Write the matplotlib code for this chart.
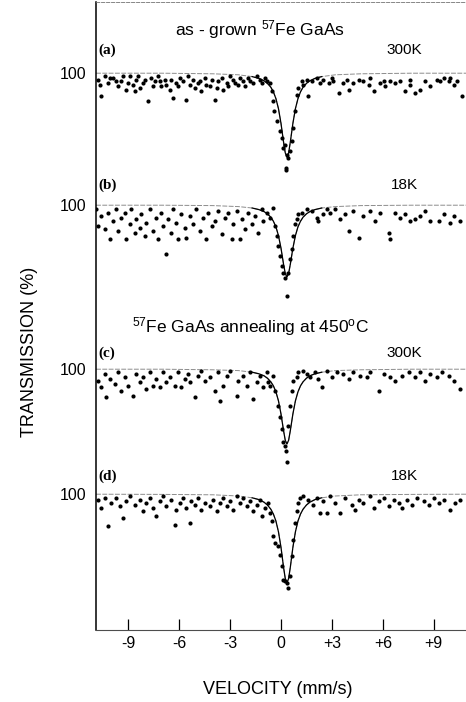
import numpy as np
import matplotlib
matplotlib.use("Agg")
import matplotlib.pyplot as plt

plt.rcParams['font.family'] = ['Liberation Sans', 'DejaVu Sans']
plt.rcParams['mathtext.fontset'] = 'custom'
plt.rcParams['mathtext.rm'] = 'Liberation Sans'
plt.rcParams['mathtext.default'] = 'regular'

# --- data (velocity in mm/s, transmission in %) ---
v_a = [-10.79, -10.69, -10.59, -10.39, -10.20, -10.10, -9.90, -9.74, -9.61, -9.41, -9.31, -9.11, -9.02, -8.92,
       -8.72, -8.62, -8.52, -8.43, -8.33, -8.13, -8.03, -7.83, -7.64, -7.54, -7.44, -7.24, -7.15, -7.05, -6.85,
       -6.75, -6.56, -6.46, -6.36, -6.16, -6.06, -5.96, -5.77, -5.57, -5.47, -5.37, -5.18, -5.08, -4.88, -4.78,
       -4.69, -4.49, -4.39, -4.19, -4.09, -3.90, -3.80, -3.70, -3.50, -3.41, -3.21, -3.11, -3.01, -2.81, -2.72,
       -2.52, -2.42, -2.22, -2.13, -1.93, -1.83, -1.63, -1.44, -1.24, -1.14, -0.94, -0.85, -0.65,
       -0.55, -0.45, -0.39, -0.26, -0.06, 0.04, 0.14, 0.24, 0.33, 0.43, 0.53, 0.63, 0.73, 0.83, 0.93, 1.02, 0.30,
       1.22, 1.32, 1.52, 1.61, 1.81, 2.11, 2.30, 2.50, 2.80, 2.99, 3.09, 3.39, 3.68, 3.88, 3.98, 4.27, 4.57, 4.86,
       5.16, 5.26, 5.45, 5.85, 6.04, 6.14, 6.44, 6.73, 7.03, 7.32, 7.62, 7.62, 7.91, 8.21, 8.50, 8.80, 9.19, 9.39,
       9.59, 9.88, 9.98, 10.18, 10.37, 10.67]
t_a = [99.67, 99.42, 98.83, 99.83, 99.50, 99.75, 99.75, 99.58, 99.33, 99.58, 99.83, 99.17, 99.50, 99.83,
       99.42, 99.08, 99.67, 99.83, 99.25, 99.50, 99.67, 98.58, 99.75, 99.33, 99.58, 99.83, 99.58, 99.33, 99.67,
       99.42, 99.17, 99.67, 98.75, 99.50, 99.33, 99.75, 99.58, 98.67, 99.83, 99.42, 99.67, 99.25, 99.50, 99.58,
       99.08, 99.75, 99.42, 99.33, 99.67, 98.67, 99.25, 99.58, 99.75, 99.17, 99.50, 99.33, 99.83, 99.67, 99.50,
       99.42, 99.75, 99.58, 99.33, 99.75, 99.58, 99.50, 99.83, 99.67, 99.50, 99.75, 99.58, 99.50,
       99.08, 98.58, 98.08, 97.58, 97.08, 96.75, 96.25, 96.42, 95.92, 95.75, 96.08, 96.58, 97.25, 98.08, 98.92,
       99.25, 95.17,
       99.58, 99.42, 99.67, 98.83, 99.58, 99.75, 99.50, 99.67, 99.50, 99.75, 99.58, 99.00, 99.50, 99.67, 99.17,
       99.50, 99.67, 99.58, 99.42, 99.75, 99.08, 99.50, 99.58, 99.33, 99.58, 99.50, 99.58, 99.08, 99.42, 99.67,
       99.00, 99.17, 99.58, 99.33, 99.67, 99.58, 99.75, 99.58, 99.75, 99.42, 99.58, 98.83]

v_b = [-10.89, -10.79, -10.59, -10.39, -10.20, -10.10, -9.90, -9.70, -9.61, -9.41, -9.21, -9.11, -8.92, -8.82,
       -8.62, -8.52, -8.33, -8.23, -8.03, -7.93, -7.74, -7.54, -7.34, -7.24, -7.05, -6.95, -6.75, -6.65, -6.46,
       -6.36, -6.16, -6.06, -5.87, -5.67, -5.57, -5.37, -5.18, -4.98, -4.78, -4.59, -4.39, -4.29, -4.09, -3.90,
       -3.70, -3.50, -3.31, -3.11, -2.91, -2.81, -2.62, -2.42, -2.32, -2.13, -1.93, -1.73, -1.54, -1.34, -1.14,
       -1.04, -0.85, -0.65, -0.45, -0.35,
       -0.26, -0.16, -0.06, 0.04, 0.14, 0.24, 0.33, 0.43, 0.53, 0.63, 0.73, 0.83, 0.93, 1.02, 0.30,
       1.22, 1.52, 1.81, 2.11, 2.20, 2.50, 2.70, 2.89, 3.19, 3.48, 3.78, 3.98, 4.27, 4.57, 4.86, 5.26, 5.55, 5.85,
       6.34, 6.44, 6.73, 7.03, 7.32, 7.62, 7.91, 8.21, 8.50, 8.80, 9.29, 9.59, 9.98, 10.18, 10.57]
t_b = [99.78, 98.95, 99.45, 98.78, 99.62, 98.28, 99.20, 99.78, 98.70, 99.37, 99.62, 98.28, 99.03, 99.78,
       98.62, 99.28, 98.87, 99.53, 98.45, 99.12, 99.78, 98.70, 99.37, 98.28, 99.62, 98.95, 97.53, 99.28, 98.62,
       99.78, 99.12, 98.28, 99.53, 98.87, 98.37, 99.45, 99.03, 99.78, 98.70, 99.37, 98.28, 99.62, 98.95, 99.20,
       99.70, 98.53, 99.37, 99.62, 98.28, 99.03, 99.70, 98.28, 99.28, 98.78, 99.62, 99.03, 99.45, 98.62, 99.78,
       99.20, 99.62, 99.37, 99.87, 98.95,
       98.45, 97.95, 97.45, 96.95, 96.62, 96.37, 95.45, 96.62, 97.28, 97.78, 98.45, 99.03, 99.28, 99.53, 101.87,
       99.62, 99.78, 99.70, 99.37, 99.20, 99.53, 99.78, 99.62, 99.78, 99.28, 99.53, 98.70, 99.70, 98.37, 99.45,
       99.70, 99.20, 99.62, 98.62, 98.28, 99.62, 99.37, 99.53, 99.20, 99.28, 99.45, 99.70, 99.20, 99.20, 99.53,
       99.12, 99.45, 99.20]

v_c = [-10.79, -10.59, -10.39, -10.30, -10.10, -9.80, -9.61, -9.41, -9.21, -9.02, -8.72, -8.52, -8.33, -8.13,
       -7.93, -7.74, -7.54, -7.34, -7.15, -6.95, -6.75, -6.56, -6.26, -6.06, -5.87, -5.67, -5.47, -5.37, -5.08,
       -4.88, -4.69, -4.49, -4.19, -3.90, -3.70, -3.60, -3.41, -3.21, -3.01, -2.62, -2.52, -2.22, -2.03, -1.83,
       -1.63, -1.44, -1.24, -1.04, -0.85,
       -0.75, -0.65, -0.49, -0.35, -0.16, -0.06, 0.04, 0.14, 0.24, 0.30, 0.37, 0.43, 0.53, 0.63, 0.73, 0.93, 1.02,
       1.32, 1.52, 1.71, 2.01, 2.20, 2.40, 2.70, 2.99, 3.29, 3.68, 3.98, 4.27, 4.67, 5.06, 5.26, 5.75, 6.04, 6.44,
       6.73, 7.13, 7.52, 7.91, 8.21, 8.50, 8.80, 9.19, 9.49, 9.88, 10.18, 10.57]
t_c = [99.42, 99.08, 99.75, 98.58, 99.50, 99.25, 99.83, 98.92, 99.58, 99.17, 98.67, 99.75, 99.33, 99.58,
       99.00, 99.83, 99.17, 99.50, 99.08, 99.83, 99.33, 99.58, 99.17, 99.83, 99.08, 99.50, 99.75, 99.33, 98.58,
       99.67, 99.92, 99.42, 99.58, 98.92, 99.83, 98.42, 99.17, 99.67, 99.92, 98.67, 99.42, 99.67, 99.17, 99.83,
       98.50, 99.33, 99.67, 99.08, 99.83,
       99.33, 99.17, 99.67, 98.92, 98.17, 97.58, 97.00, 96.33, 96.17, 95.92, 95.33, 97.17, 98.17, 98.92, 99.42,
       99.58, 99.83,
       99.92, 99.75, 99.58, 99.83, 99.50, 99.08, 99.92, 99.58, 99.83, 99.75, 99.50, 99.83, 99.67, 99.58, 99.83,
       98.92, 99.75, 99.58, 99.42, 99.67, 99.83, 99.58, 99.83, 99.42, 99.75, 99.58, 99.83, 99.67, 99.42, 99.00]

v_d = [-10.79, -10.59, -10.39, -10.20, -10.00, -9.70, -9.51, -9.31, -9.11, -8.92, -8.62, -8.33, -8.13, -7.93,
       -7.74, -7.54, -7.34, -7.15, -6.95, -6.75, -6.46, -6.26, -6.16, -5.96, -5.77, -5.57, -5.37, -5.28, -5.08,
       -4.88, -4.69, -4.49, -4.19, -4.00, -3.80, -3.60, -3.41, -3.21, -3.01, -2.81, -2.62, -2.42, -2.22, -2.03,
       -1.83, -1.63, -1.44, -1.24, -1.14, -0.94, -0.75,
       -0.65, -0.55, -0.45, -0.35, -0.16, -0.06, 0.04, 0.14, 0.24, 0.33, 0.43, 0.53, 0.63, 0.73, 0.83, 0.93, 1.02,
       1.12, 1.32,
       1.61, 1.91, 2.11, 2.30, 2.50, 2.70, 2.89, 3.19, 3.48, 3.78, 4.17, 4.37, 4.57, 4.86, 5.26, 5.45, 5.75, 6.04,
       6.34, 6.63, 6.93, 7.13, 7.42, 7.72, 8.01, 8.41, 8.70, 9.00, 9.29, 9.59, 9.98, 10.28, 10.57]
t_d = [99.72, 99.30, 99.80, 98.42, 99.55, 99.80, 99.38, 98.80, 99.63, 99.88, 99.47, 99.72, 99.13, 99.55,
       99.80, 99.30, 98.88, 99.63, 99.88, 99.38, 99.72, 98.47, 99.22, 99.55, 99.80, 99.30, 98.55, 99.63, 99.47,
       99.80, 99.22, 99.55, 99.38, 99.72, 99.13, 99.55, 99.80, 99.38, 99.63, 99.22, 99.88, 99.55, 99.80, 99.38,
       99.63, 99.13, 99.47, 99.72, 98.88, 99.30, 99.55,
       99.05, 98.63, 97.88, 97.55, 97.38, 96.97, 96.38, 95.72, 95.63, 95.55, 95.30, 95.88, 96.88, 97.72, 98.55,
       99.13, 99.55, 99.80, 99.88,
       99.72, 99.47, 99.80, 99.05, 99.63, 99.05, 99.88, 99.55, 99.05, 99.80, 99.47, 99.22, 99.72, 99.55, 99.88,
       99.30, 99.63, 99.80, 99.38, 99.72, 99.55, 99.30, 99.72, 99.47, 99.80, 99.63, 99.47, 99.80, 99.55, 99.72,
       99.22, 99.55, 99.72]

# fitted single lines (Lorentzian-like shape)
fit_v = [-10.9, -7.0, -4.0, -2.5, -1.7, -1.3, -1.0, -0.8, -0.6, -0.45, -0.3, -0.15, 0.0, 0.15, 0.25, 0.35,
         0.45, 0.55, 0.7, 0.85, 1.0, 1.15, 1.3, 1.5, 1.7, 2.0, 2.4, 3.2, 4.7, 7.7, 10.9]
fit_a = [99.99, 99.99, 99.96, 99.91, 99.82, 99.73, 99.61, 99.48, 99.29, 99.06, 98.72, 98.22, 97.48, 96.55,
         96.01, 95.80, 96.01, 96.55, 97.48, 98.22, 98.72, 99.06, 99.29, 99.48, 99.61, 99.73, 99.82, 99.91,
         99.96, 99.99, 99.99]
fit_b = [99.99, 99.99, 99.97, 99.92, 99.85, 99.77, 99.67, 99.56, 99.39, 99.19, 98.91, 98.47, 97.84, 97.04,
         96.58, 96.40, 96.58, 97.04, 97.84, 98.47, 98.91, 99.19, 99.39, 99.56, 99.67, 99.77, 99.85, 99.92,
         99.97, 99.99, 99.99]
fit_c = [99.99, 99.99, 99.96, 99.92, 99.84, 99.76, 99.66, 99.54, 99.36, 99.16, 98.86, 98.41, 97.75, 96.92,
         96.44, 96.25, 96.44, 96.92, 97.75, 98.41, 98.86, 99.16, 99.36, 99.54, 99.66, 99.76, 99.84, 99.92,
         99.96, 99.99, 99.99]
fit_d = [99.99, 99.98, 99.96, 99.90, 99.81, 99.72, 99.59, 99.45, 99.24, 99.00, 98.65, 98.11, 97.33, 96.34,
         95.78, 95.55, 95.78, 96.34, 97.33, 98.11, 98.65, 99.00, 99.24, 99.45, 99.59, 99.72, 99.81, 99.90,
         99.96, 99.98, 99.99]

panel_tags = ['(a)', '(b)', '(c)', '(d)']
temps = ['300K', '18K', '300K', '18K']
xticks = [-9, -6, -3, 0, 3, 6, 9]
xtick_labels = ['-9', '-6', '-3', '0', '+3', '+6', '+9']

# vertical offset of each spectrum (the "100" level of each panel on the shared axis)
base = [27.85, 21.25, 13.05, 6.8]

fig = plt.figure(figsize=(4.66, 7.02), dpi=100)
ax = fig.add_axes([96 / 466, 1 - 630 / 702, 1 - 96 / 466, 628 / 702])

spectra = [(v_a, t_a, fit_a), (v_b, t_b, fit_b), (v_c, t_c, fit_c), (v_d, t_d, fit_d)]
for i, (vv, tt, ff) in enumerate(spectra):
    off = base[i] - 100
    fy = np.array(ff) + off
    ax.plot(fit_v, fy, color='0.55', lw=0.7, ls=(0, (5, 1.5)), zorder=2)
    ax.plot(fit_v[4:27], fy[4:27], color='k', lw=0.9, zorder=3)
    ax.scatter(vv, np.array(tt) + off, s=9, color='k', linewidths=0, zorder=4)

ax.set_xlim(-10.9, 10.9)
ax.set_ylim(0, 31.4)
ax.set_xticks(xticks)
ax.set_xticklabels(xtick_labels, fontsize=11.5)
ax.tick_params(axis='x', direction='in', length=8, width=0.9, pad=4)
ax.set_yticks(base)
ax.set_yticklabels(['100'] * 4, fontsize=11.5)
ax.tick_params(axis='y', length=0, pad=7)

ax.spines['right'].set_visible(False)
ax.spines['left'].set_linewidth(1.1)
ax.spines['bottom'].set_linewidth(0.8)
ax.spines['bottom'].set_color('0.3')
ax.spines['top'].set_linewidth(0.6)
ax.spines['top'].set_color('0.45')
ax.spines['top'].set_linestyle((0, (4, 2)))

# panel tags and temperatures
tag_y = [50, 185, 353, 476]
for i in range(4):
    yy = 1 - tag_y[i] / 702
    fig.text(98 / 466, yy, panel_tags[i], family=['Liberation Serif', 'DejaVu Serif'], weight='bold',
             fontsize=11, va='center', ha='left')
    fig.text(404 / 466, yy, temps[i], fontsize=11, va='center', ha='center')

fig.text(260 / 466, 1 - 30 / 702, r'as - grown $^{57}$Fe GaAs', fontsize=12.5, ha='center', va='center')
fig.text(250 / 466, 1 - 327 / 702, r'$^{57}$Fe GaAs annealing at 450$^{o}$C', fontsize=12.5,
         ha='center', va='center')

fig.text(30 / 466, 1 - 352 / 702, 'TRANSMISSION (%)', rotation=90, fontsize=13, ha='center', va='center')
fig.text(278 / 466, 1 - 690 / 702, 'VELOCITY (mm/s)', fontsize=13, ha='center', va='center')

fig.savefig('out.png', dpi=100)
